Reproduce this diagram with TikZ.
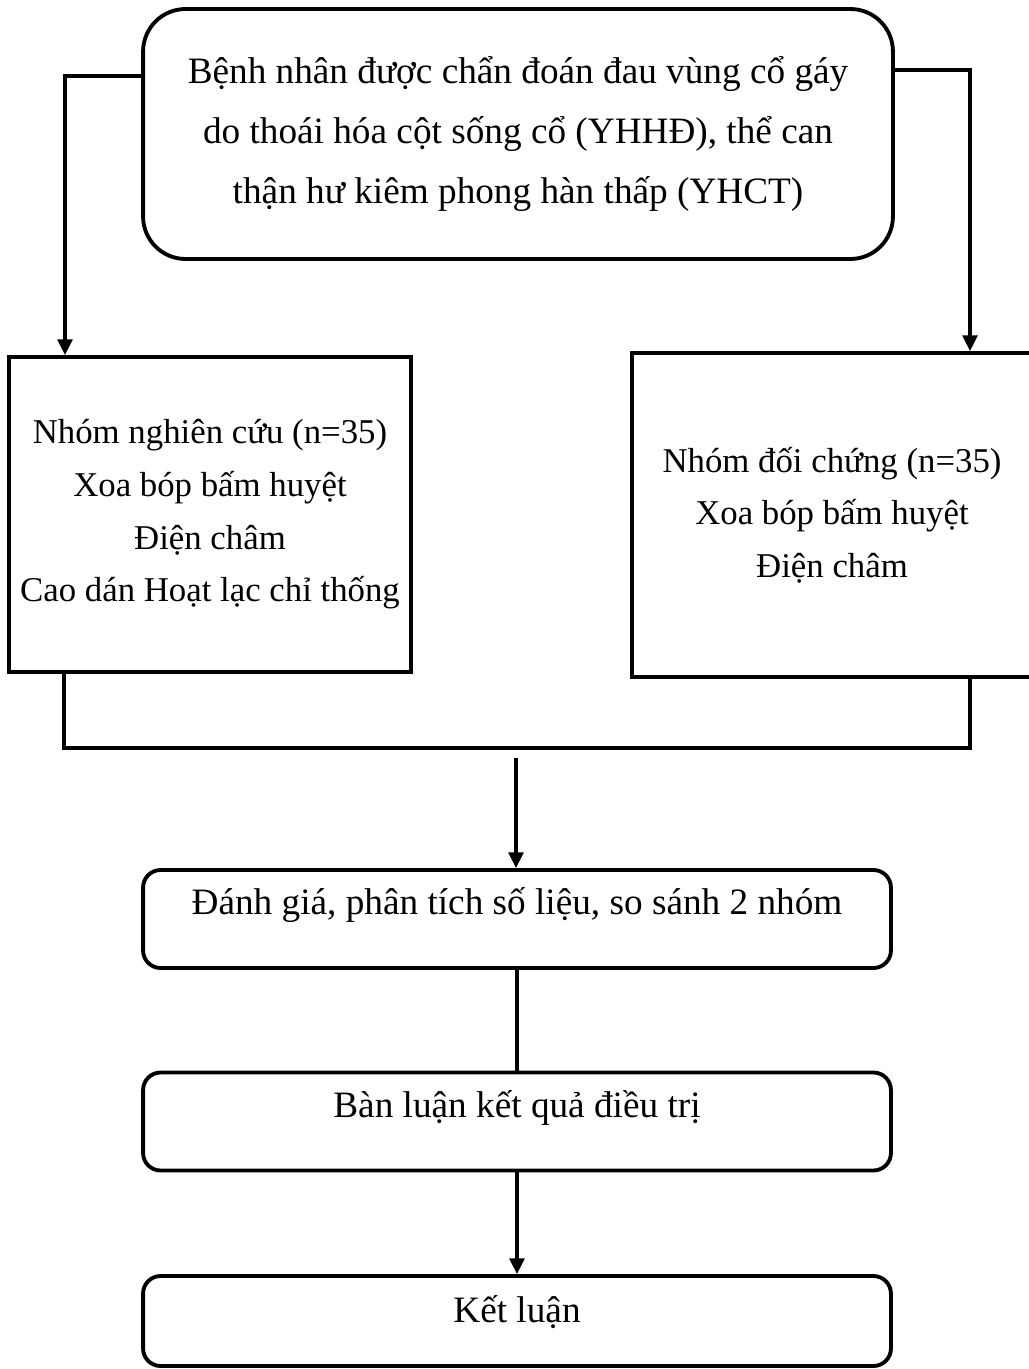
\documentclass[tikz,border=0pt]{standalone}
\usepackage{fontspec}
\setmainfont{Liberation Serif}
\usetikzlibrary{arrows.meta}

\begin{document}
\begin{tikzpicture}[x=0.02cm,y=-0.02cm,line width=1.9pt,
	font=\fontsize{21.2}{34}\selectfont,
	box/.style={draw,line width=2.2pt,inner sep=0pt,align=center},
	groupbox/.style={box,font=\fontsize{19.8}{30}\selectfont},
	stagebox/.style={box,rounded corners=0.35cm,minimum width=14.96cm,minimum height=1.96cm,text height=15pt,text depth=20pt},
	flow/.style={-{Triangle[length=9pt,width=8.5pt]}}]
	\useasboundingbox (0,0) rectangle (1028,1369);

	\node[box,rounded corners=0.85cm,minimum width=15cm,minimum height=5cm] (patients) at (518,134)
		{Bệnh nhân được chẩn đoán đau vùng cổ gáy\\ do thoái hóa cột sống cổ (YHHĐ), thể can\\ thận hư kiêm phong hàn thấp (YHCT)};

	\node[groupbox,minimum width=8.04cm,minimum height=6.3cm] (study) at (210,514.5)
		{Nhóm nghiên cứu (n=35)\\ Xoa bóp bấm huyệt\\ Điện châm\\ Cao dán Hoạt lạc chỉ thống};
	\node[groupbox,minimum width=8cm,minimum height=6.48cm] (control) at (832,515)
		{Nhóm đối chứng (n=35)\\ Xoa bóp bấm huyệt\\ Điện châm};

	\node[stagebox] (eval) at (517,919) {Đánh giá, phân tích số liệu, so sánh 2 nhóm};
	\node[stagebox] (discuss) at (517,1121.5) {Bàn luận kết quả điều trị};
	\node[stagebox,minimum height=1.8cm,text depth=13pt] (conclude) at (517,1321) {Kết luận};

	% split into the two groups
	\coordinate (splitL) at (65,76);
	\coordinate (splitR) at (970,70);
	\draw[flow] (patients.west |- splitL) -- (splitL) -- (splitL |- study.north);
	\draw[flow] (patients.east |- splitR) -- (splitR) -- (splitR |- control.north);

	% join the groups again
	\coordinate (joinL) at (64,748);
	\coordinate (joinR) at (970,748);
	\coordinate (joinM) at (516,758);
	\draw (study.south -| joinL) -- (joinL) -- (joinR) -- (control.south -| joinR);
	\draw[flow] (joinM) -- (eval.north -| joinM);

	\draw (eval) -- (discuss);
	\draw[flow] (discuss) -- (conclude);
\end{tikzpicture}
\end{document}
